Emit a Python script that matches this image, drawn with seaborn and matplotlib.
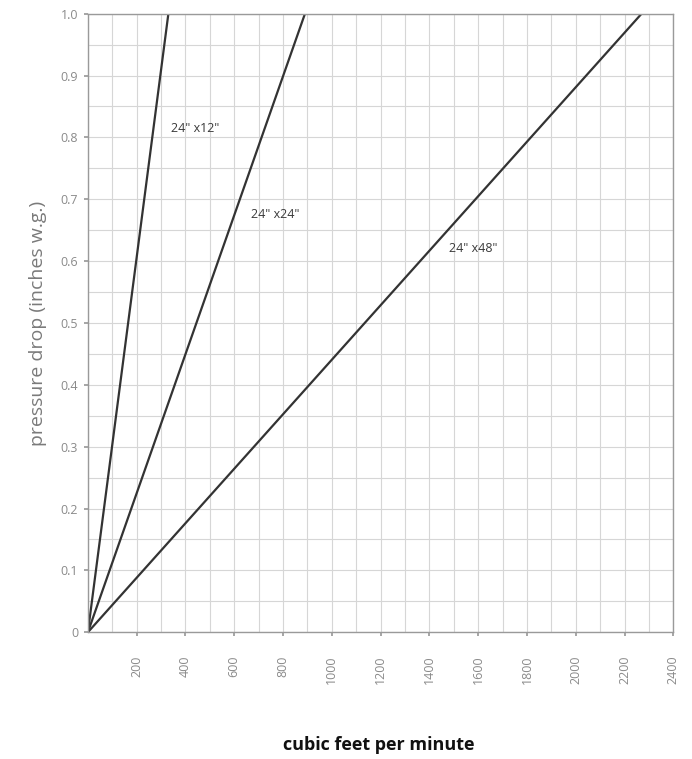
import numpy as np
import pandas as pd
import matplotlib
matplotlib.use("Agg")
import matplotlib.pyplot as plt
from matplotlib.ticker import MultipleLocator
import seaborn as sns

# -------------------------------
# data
# -------------------------------
sizes = ['24"x12"', '24"x24"', '24"x48"']
cfm_start = [0, 0, 0]
cfm_end = [330, 890, 2270]
dp_start = [0.0, 0.0, 0.0]
dp_end = [1.0, 1.0, 1.0]

label_x = [440, 770, 1580]
label_y = [0.815, 0.675, 0.62]

x_ticks = [200, 400, 600, 800, 1000, 1200, 1400, 1600, 1800, 2000, 2200, 2400]
y_ticks = [0, 0.1, 0.2, 0.3, 0.4, 0.5, 0.6, 0.7, 0.8, 0.9, 1.0]
y_tick_labels = ["0", "0.1", "0.2", "0.3", "0.4", "0.5", "0.6", "0.7", "0.8", "0.9", "1.0"]

rows = []
for s, x0, x1, y0, y1 in zip(sizes, cfm_start, cfm_end, dp_start, dp_end):
    rows.append({"size": s, "cfm": x0, "dp": y0})
    rows.append({"size": s, "cfm": x1, "dp": y1})
df = pd.DataFrame(rows)

# -------------------------------
# plot
# -------------------------------
sns.set_theme(style="white")
plt.rcParams["font.family"] = ["Open Sans", "DejaVu Sans"]

fig = plt.figure(figsize=(6.92, 7.59), dpi=100)
ax = fig.add_axes([0.127, 0.167, 0.846, 0.815])

sns.lineplot(data=df, x="cfm", y="dp", units="size", estimator=None,
             color="#333333", linewidth=1.6, ax=ax, legend=False)

for s, lx, ly in zip(sizes, label_x, label_y):
    ax.text(lx, ly, s.replace('"x', '" x'), fontsize=9, color="#3a3a3a", ha="center", va="center")

ax.set_xlim(0, 2400)
ax.set_ylim(0, 1.0)
ax.xaxis.set_minor_locator(MultipleLocator(100))
ax.yaxis.set_minor_locator(MultipleLocator(0.05))
ax.grid(which="both", color="#d6d6d6", linewidth=0.8)
ax.set_axisbelow(True)

ax.set_xticks(x_ticks)
ax.set_xticklabels([str(t) for t in x_ticks], rotation=90, fontsize=9, color="#8a8a8a")
ax.set_yticks(y_ticks)
ax.set_yticklabels(y_tick_labels, fontsize=9, color="#8a8a8a")
ax.tick_params(axis="both", which="major", length=3, color="#9a9a9a", pad=14, bottom=True, left=True)
ax.tick_params(axis="y", pad=4)
ax.tick_params(which="minor", length=0)

for sp in ax.spines.values():
    sp.set_color("#9a9a9a")
    sp.set_linewidth(1.0)

ax.set_xlabel("")
fig.text(0.548, 0.018, "cubic feet per minute", fontsize=13, fontweight="bold",
         color="#111111", ha="center", va="center")
ax.set_ylabel("pressure drop (inches w.g.)", fontsize=14, color="#7a7a7a", labelpad=10)

fig.savefig("out.png", dpi=100)
